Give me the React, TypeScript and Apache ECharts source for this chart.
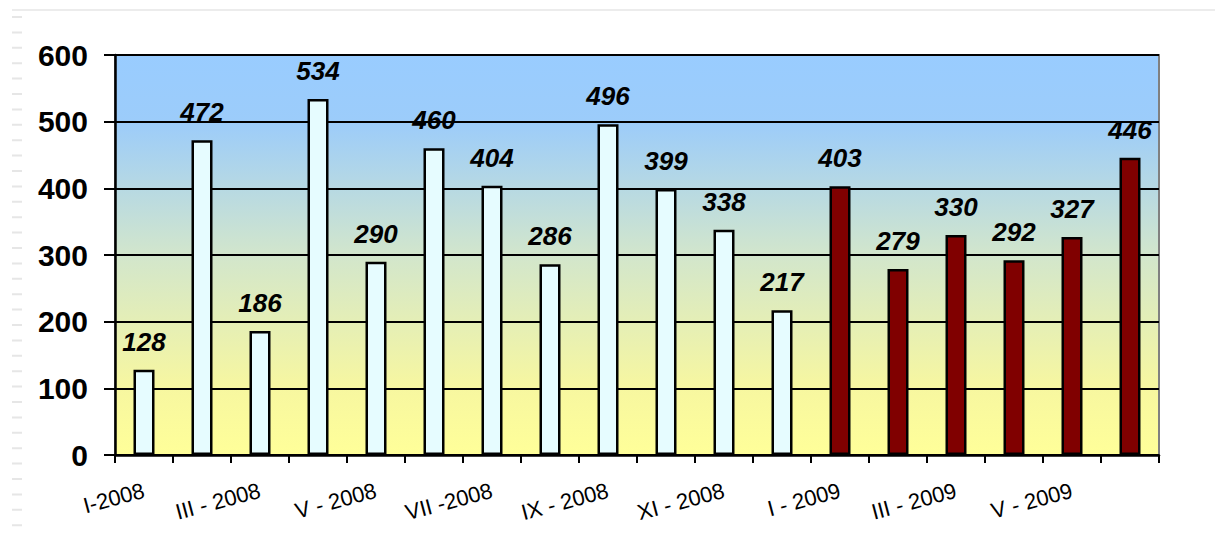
import React, { useEffect, useRef } from "react";
import * as echarts from "echarts";

const categories = [
  "I-2008", "II - 2008", "III - 2008", "IV - 2008", "V - 2008", "VI - 2008",
  "VII -2008", "VIII - 2008", "IX - 2008", "X - 2008", "XI - 2008", "XII - 2008",
  "I - 2009", "II - 2009", "III - 2009", "IV - 2009", "V - 2009", "VI - 2009",
];
const values2008 = [128, 472, 186, 534, 290, 460, 404, 286, 496, 399, 338, 217];
const values2009 = [403, 279, 330, 292, 327, 446];
const yTicks = { min: 0, max: 600, interval: 100 };

const FONT = "'Liberation Sans', Arial, sans-serif";

export default function App() {
  const ref = useRef<HTMLDivElement>(null);
  useEffect(() => {
    if (!ref.current) return;
    const chart = echarts.init(ref.current, undefined, { renderer: "svg" });
    const data = [
      ...values2008.map((v) => ({
        value: v,
        itemStyle: { color: "#E6FCFF" },
      })),
      ...values2009.map((v) => ({
        value: v,
        itemStyle: { color: "#800000" },
      })),
    ];
    chart.setOption({
      animation: false,
      backgroundColor: "#ffffff",
      textStyle: { fontFamily: FONT },
      grid: {
        left: 115,
        right: 56,
        top: 55,
        bottom: 83,
        show: true,
        borderColor: "#808080",
        borderWidth: 2,
        backgroundColor: new echarts.graphic.LinearGradient(0, 0, 0, 1, [
          { offset: 0, color: "#99CCFF" },
          { offset: 0.167, color: "#9CCCFA" },
          { offset: 0.5, color: "#D2E6CC" },
          { offset: 0.833, color: "#F7F7A0" },
          { offset: 1, color: "#FFFF99" },
        ]),
      },
      graphic: [
        {
          type: "line",
          shape: { x1: 12, y1: 10, x2: 1215, y2: 10 },
          style: { stroke: "#ececec", lineWidth: 2 },
          silent: true,
        },
        {
          type: "line",
          shape: { x1: 17, y1: 16, x2: 17, y2: 538 },
          style: { stroke: "#e6e6e6", lineWidth: 10, lineDash: [2, 13.4] },
          silent: true,
        },
      ],
      xAxis: {
        type: "category",
        data: categories,
        axisLine: { lineStyle: { color: "#000", width: 2.5 } },
        axisTick: {
          show: true,
          interval: 0,
          alignWithLabel: false,
          length: 8,
          lineStyle: { color: "#000", width: 2 },
        },
        axisLabel: {
          interval: 1,
          rotate: 15,
          fontSize: 22,
          color: "#000",
          margin: 35,
          fontFamily: FONT,
        },
        splitLine: { show: false },
      },
      yAxis: {
        type: "value",
        min: yTicks.min,
        max: yTicks.max,
        interval: yTicks.interval,
        axisLine: { show: true, lineStyle: { color: "#000", width: 2.5 } },
        axisTick: { show: true, length: 11, lineStyle: { color: "#000", width: 2 } },
        axisLabel: {
          fontSize: 30,
          fontWeight: "bold",
          color: "#000",
          margin: 27,
          fontFamily: FONT,
        },
        splitLine: { show: true, lineStyle: { color: "#000", width: 2 } },
      },
      series: [
        {
          type: "bar",
          data,
          barWidth: 21,
          itemStyle: { borderColor: "#000", borderWidth: 2.5 },
          label: {
            show: true,
            position: "top",
            distance: 15,
            fontSize: 26,
            fontWeight: "bold",
            fontStyle: "italic",
            color: "#000",
            fontFamily: FONT,
          },
        },
      ],
    });
    return () => chart.dispose();
  }, []);
  return (
    <div
      ref={ref}
      style={{ position: "fixed", left: 0, top: 0, width: 1215, height: 538 }}
    />
  );
}
